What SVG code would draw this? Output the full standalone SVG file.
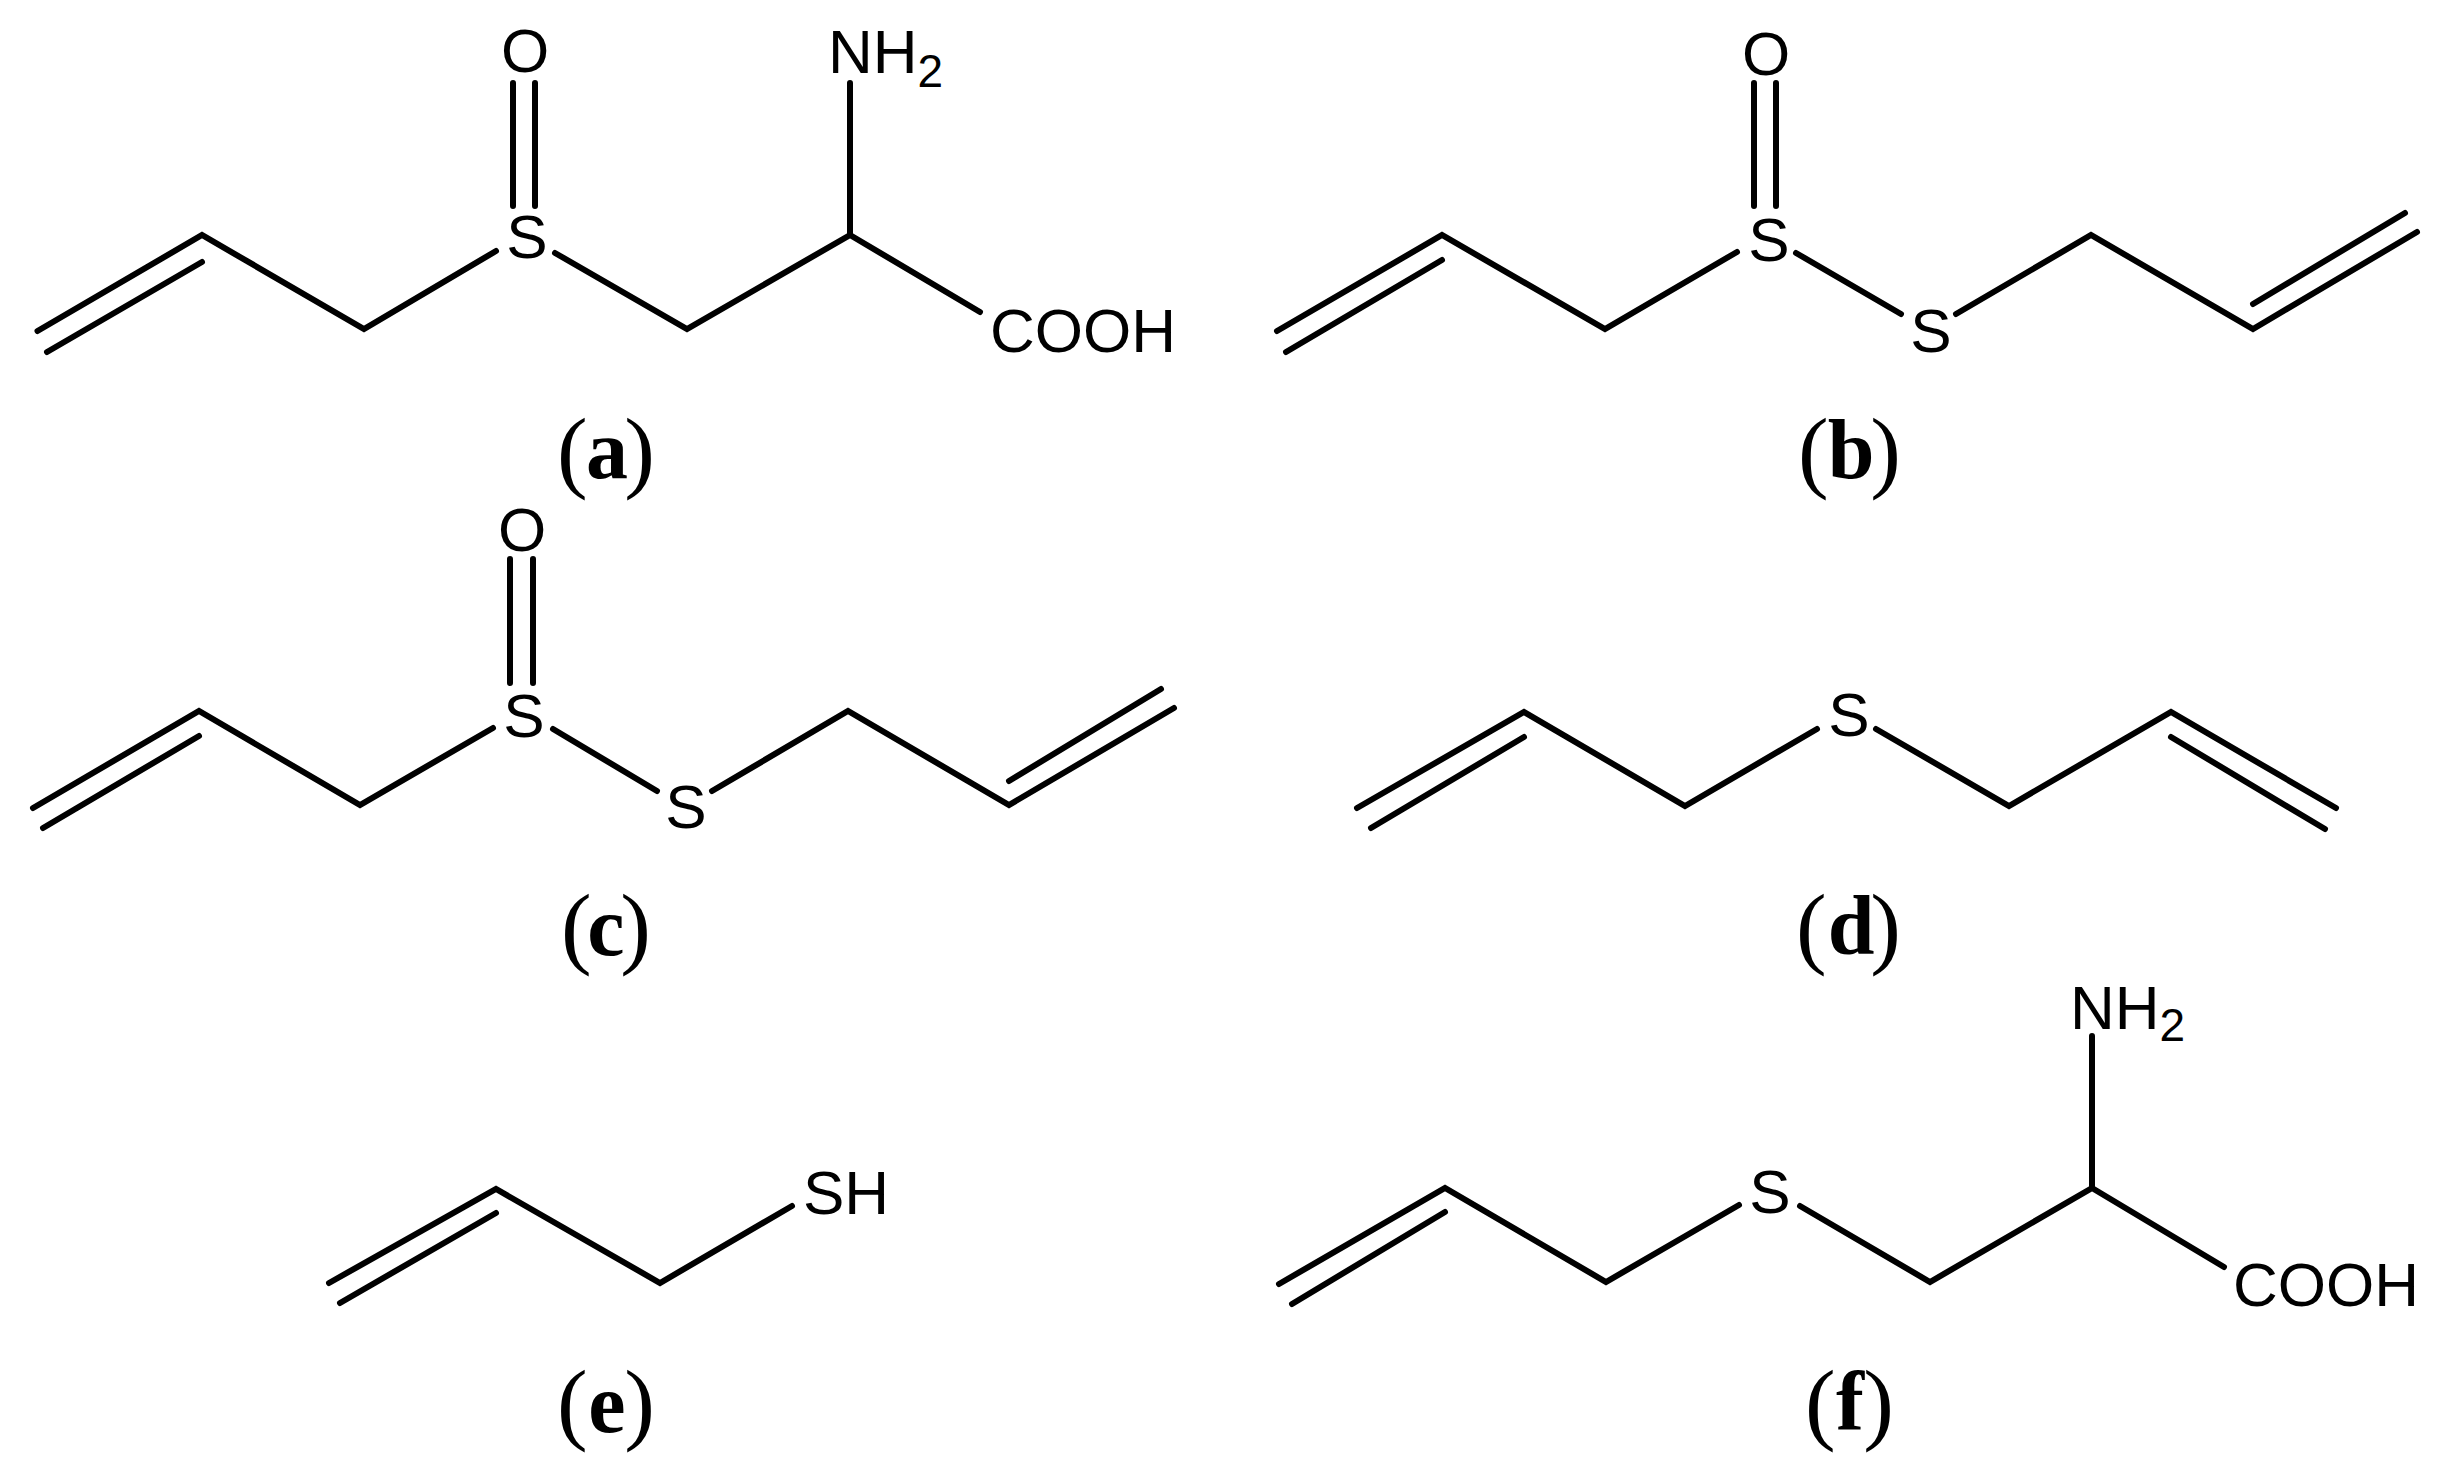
<svg xmlns="http://www.w3.org/2000/svg" width="2454" height="1465" viewBox="0 0 2454 1465">
<style>
.b{fill:none;stroke:#000;stroke-width:6;stroke-linecap:round;stroke-linejoin:miter}
.t{font-family:"Liberation Sans",Arial,sans-serif;font-size:62px;fill:#000}
.s{font-size:46px}
.l{font-family:"Liberation Serif","Times New Roman",serif;font-size:84px;font-weight:bold;fill:#000;text-anchor:middle}
.p{font-family:"Liberation Serif","Times New Roman",serif;font-size:92px;fill:#000}
.r{text-anchor:end}
.m{text-anchor:middle}
</style>
<rect width="2454" height="1465" fill="#fff"/>
<g id="bonds" class="b">
<path d="M37.5 331L202 235L364 329L496 251M47 352L202 262M555 253L687 329L850 235V83M850 235L980 312M513 83V206M535 83V206"/>
<path d="M1277 331L1442 235L1605 329L1737 252M1286 352L1442 260M1796 253L1901 314M1956 314L2091 235L2253 329L2417 232M2253 304L2405 213M1754 83V206M1776 83V206"/>
<path d="M33 808L199 711L360 805L493 728M43 828L199 736M553 729L657 791M712 791L848 711L1009 805L1174 708M1009 781L1161 689M510 559V683M533 559V683"/>
<path d="M1357 808L1524 712L1685 806L1817 729M1371 828L1524 737M1876 729L2009 806L2171 712L2336 808M2171 737L2325 829"/>
<path d="M329 1283L496 1189L660 1283L792 1206M340 1303L496 1213"/>
<path d="M1279 1284L1445 1188L1606 1282L1739 1205M1292 1304L1445 1212M1800 1206L1930 1282L2092 1188V1036M2092 1188L2224 1267"/>
</g>
<g id="mol-a">
<text class="t m" x="525" y="72">O</text>
<text class="t m" x="527" y="258">S</text>
<text class="t" x="828" y="73">NH<tspan class="s" dy="14">2</tspan></text>
<text class="t" x="990" y="352">COOH</text>
<text class="p" x="557" y="481">(</text><text class="l" x="607" y="478">a</text><text class="p r" x="655" y="481">)</text>
</g>
<g id="mol-b">
<text class="t m" x="1766" y="75">O</text>
<text class="t m" x="1769" y="261">S</text>
<text class="t m" x="1931" y="352">S</text>
<text class="p" x="1798" y="481">(</text><text class="l" x="1851" y="478">b</text><text class="p r" x="1901" y="481">)</text>
</g>
<g id="mol-c">
<text class="t m" x="522" y="551">O</text>
<text class="t m" x="524" y="737">S</text>
<text class="t m" x="686" y="828">S</text>
<text class="p" x="561" y="957">(</text><text class="l" x="606" y="955">c</text><text class="p r" x="651" y="957">)</text>
</g>
<g id="mol-d">
<text class="t m" x="1849" y="736">S</text>
<text class="p" x="1796" y="957">(</text><text class="l" x="1851" y="954">d</text><text class="p r" x="1901" y="957">)</text>
</g>
<g id="mol-e">
<text class="t" x="803" y="1214">SH</text>
<text class="p" x="557" y="1433">(</text><text class="l" x="607" y="1432">e</text><text class="p r" x="655" y="1433">)</text>
</g>
<g id="mol-f">
<text class="t m" x="1770" y="1213">S</text>
<text class="t" x="2070" y="1029">NH<tspan class="s" dy="12">2</tspan></text>
<text class="t" x="2233" y="1306">COOH</text>
<text class="p" x="1805" y="1433">(</text><text class="l" x="1850" y="1430">f</text><text class="p r" x="1894" y="1433">)</text>
</g>
</svg>
